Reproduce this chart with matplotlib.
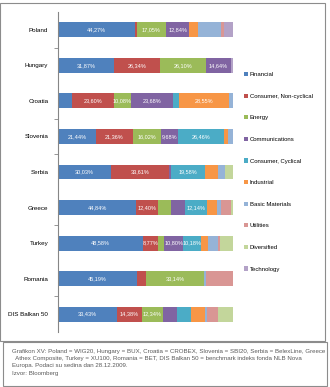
import matplotlib
matplotlib.use("Agg")
import matplotlib.pyplot as plt
from matplotlib.patches import Rectangle
import numpy as np

plt.rcParams['font.family'] = ['Liberation Sans', 'DejaVu Sans']

countries = ["Poland", "Hungary", "Croatia", "Slovenia", "Serbia", "Greece",
             "Turkey", "Romania", "DIS Balkan 50"]
sectors = ["Financial", "Consumer, Non-cyclical", "Energy", "Communications",
           "Consumer, Cyclical", "Industrial", "Basic Materials", "Utilities",
           "Diversified", "Technology"]

financial      = [44.27, 31.87, 8.20, 21.44, 30.03, 44.84, 48.58, 45.19, 33.43]
cons_noncyc    = [0.60, 26.34, 23.60, 21.36, 33.61, 12.40, 8.77, 5.10, 14.38]
energy         = [17.05, 26.10, 10.08, 16.02, 0.00, 7.10, 3.40, 33.14, 12.34]
communications = [12.84, 14.64, 23.68, 9.68, 1.00, 8.40, 10.80, 0.00, 7.80]
cons_cyc       = [0.00, 0.00, 3.60, 26.46, 19.58, 12.14, 10.18, 0.00, 8.00]
industrial     = [5.10, 0.00, 28.55, 2.40, 7.20, 6.10, 4.20, 0.00, 8.00]
basic_mat      = [13.50, 0.00, 2.30, 2.64, 4.20, 2.30, 5.70, 1.00, 1.10]
utilities      = [1.70, 0.00, 0.00, 0.00, 0.00, 5.40, 1.00, 15.57, 6.50]
diversified    = [0.00, 0.00, 0.00, 0.00, 4.38, 1.30, 7.40, 0.00, 8.45]
technology     = [4.90, 1.05, 0.00, 0.00, 0.00, 0.00, 0.00, 0.00, 0.00]

series = [financial, cons_noncyc, energy, communications, cons_cyc,
          industrial, basic_mat, utilities, diversified, technology]
colors = ["#4F81BD", "#C0504D", "#9BBB59", "#8064A2", "#4BACC6",
          "#F79646", "#95B3D7", "#D99694", "#C3D69B", "#B3A2C7"]

caption = ("Grafikon XV: Poland = WIG20, Hungary = BUX, Croatia = CROBEX, Slovenia = SBI20, Serbia = BelexLine, Greece\n"
           "  Athex Composite, Turkey = XU100, Romania = BET, DIS Balkan 50 = benchmark indeks fonda NLB Nova\n"
           "Europa. Podaci su sedina dan 28.12.2009.\n"
           "Izvor: Bloomberg")

W, H = 330, 387
fig = plt.figure(figsize=(W / 100, H / 100), dpi=100)

# frames
fig.patches.append(Rectangle((0 / W, 1 - 341 / H), 325 / W, 338 / H,
                             transform=fig.transFigure, fill=False,
                             edgecolor="#8c8c8c", lw=0.8))
fig.patches.append(Rectangle((3 / W, 1 - 386 / H), 324 / W, 44 / H,
                             transform=fig.transFigure, fill=False,
                             edgecolor="#8c8c8c", lw=0.8))

ax = fig.add_axes([58 / W, 1 - 332 / H, 175 / W, 320 / H])
y = np.arange(len(countries))
left = np.zeros(len(countries))
handles = []
for i, (vals, col, name) in enumerate(zip(series, colors, sectors)):
    vals = np.array(vals)
    b = ax.barh(y, vals, left=left, height=0.42, color=col, label=name)
    handles.append(b)
    for j, v in enumerate(vals):
        if i <= 5 and v >= 8.7:
            ax.text(left[j] + v / 2, y[j], f"{v:.2f}".replace(".", ",") + "%",
                    ha="center", va="center", color="white", fontsize=4.0)
    left += vals

ax.set_xlim(0, 100)
ax.set_ylim(len(countries) - 0.5, -0.5)
ax.set_yticks(y)
ax.set_yticklabels(countries, fontsize=4.5)
ax.tick_params(axis="y", length=0, pad=7)
ax.set_yticks([0.5, 2.5, 3.5, 5.5, 7.5], minor=True)
ax.tick_params(axis="y", which="minor", length=3, color="#868686", width=0.6)
ax.set_xticks([])
for s in ["top", "right", "bottom"]:
    ax.spines[s].set_visible(False)
ax.spines["left"].set_color("#868686")
ax.spines["left"].set_linewidth(0.8)

fig.legend(handles=handles, loc="upper left",
           bbox_to_anchor=(244 / W, 1 - 72 / H), frameon=False,
           fontsize=4.3, handlelength=0.7, handleheight=0.7,
           handletextpad=0.3, labelspacing=2.75, borderpad=0, borderaxespad=0)

fig.text(12 / W, 1 - 349 / H, caption, fontsize=4.4, color="#595959",
         va="top", ha="left", linespacing=1.55)

fig.savefig("out.png", dpi=100)
